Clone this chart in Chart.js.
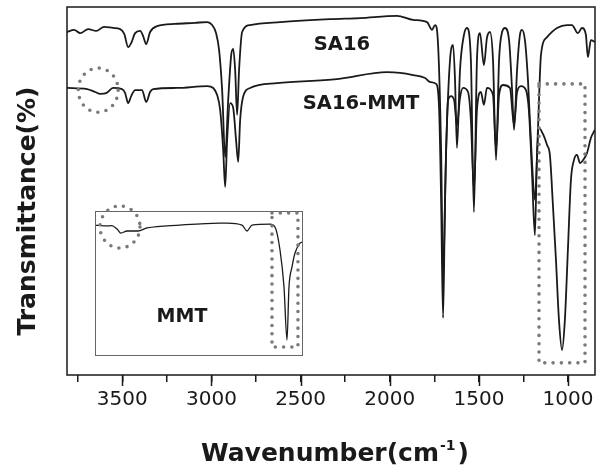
<!DOCTYPE html>
<html>
<head>
<meta charset="utf-8">
<script src="https://cdn.jsdelivr.net/npm/chart.js@4.4.0/dist/chart.umd.min.js"></script>
<style>
  html, body { margin: 0; padding: 0; background: #fff; }
  #wrap { position: relative; width: 606px; height: 467px; }
  #mainChart { position: absolute; left: 0; top: 0; }
  #insetChart { position: absolute; left: 85px; top: 200px; }
</style>
</head>
<body>
<div id="wrap">
  <canvas id="mainChart" width="606" height="467"></canvas>
  <canvas id="insetChart" width="225" height="162"></canvas>
</div>
<script>
// FTIR spectra (wavenumber in cm-1, transmittance in arbitrary %)
const wnSA16 = [3810, 3770, 3736, 3691, 3646, 3602, 3551, 3512, 3489, 3467, 3450, 3428, 3400, 3383, 3366, 3344, 3305, 3204, 3092, 3024,
  2996, 2974, 2957, 2940, 2923, 2906, 2889, 2878, 2867, 2856, 2845, 2828, 2783, 2615, 2335, 2167, 1959, 1869, 1791, 1763,
  1746, 1729, 1712, 1701, 1684, 1662, 1645, 1634, 1623, 1606, 1584, 1567, 1545, 1528, 1511, 1494, 1472, 1455, 1438, 1421,
  1404, 1387, 1370, 1354, 1331, 1314, 1303, 1286, 1270, 1259, 1242, 1225, 1203, 1186, 1169, 1152, 1118, 1062, 1006, 978,
  945, 922, 900, 889, 872, 850];
const tSA16 = [93.2, 93.8, 92.9, 94.0, 93.5, 94.6, 94.3, 94.0, 92.7, 89.1, 90.2, 92.9, 93.5, 92.1, 89.9, 93.2, 94.8, 95.4, 95.7, 95.9,
  95.1, 92.9, 88.3, 77.4, 59.2, 74.7, 87.0, 88.6, 82.9, 70.7, 82.9, 93.2, 95.1, 95.9, 96.7, 97.0, 97.6, 96.5, 95.9, 93.8,
  95.1, 89.7, 61.1, 26.4, 61.1, 85.6, 89.7, 80.2, 61.7, 82.9, 92.4, 94.3, 85.6, 44.3, 85.6, 92.9, 84.2, 91.6, 93.2, 85.6,
  58.4, 85.6, 93.2, 94.3, 91.0, 77.4, 66.6, 82.9, 92.4, 93.8, 91.0, 80.2, 58.4, 47.6, 66.6, 87.0, 91.8, 94.3, 95.1, 95.1,
  92.9, 94.3, 92.4, 86.4, 91.0, 90.5];

const wnComposite = [3810, 3697, 3652, 3624, 3590, 3551, 3501, 3484, 3467, 3450, 3428, 3389, 3366, 3344, 3327, 3192, 3024, 2990, 2968, 2951,
  2934, 2923, 2912, 2895, 2878, 2862, 2850, 2839, 2823, 2783, 2632, 2296, 2015, 1942, 1869, 1802, 1774, 1740, 1723, 1712,
  1701, 1690, 1673, 1656, 1639, 1623, 1606, 1589, 1561, 1545, 1528, 1511, 1489, 1472, 1455, 1421, 1404, 1387, 1365, 1326,
  1303, 1286, 1264, 1236, 1220, 1203, 1186, 1175, 1163, 1141, 1118, 1102, 1085, 1068, 1051, 1034, 1018, 1001, 984, 967,
  950, 933, 916, 894, 872, 850];
const tComposite = [78.0, 77.7, 76.9, 76.4, 76.6, 78.0, 77.7, 76.6, 73.9, 75.8, 77.4, 77.4, 74.2, 76.9, 77.7, 78.0, 78.5, 78.0, 76.1, 72.0,
  61.1, 51.1, 63.9, 73.9, 72.6, 63.9, 57.9, 69.3, 75.5, 78.0, 79.3, 80.4, 82.3, 82.1, 81.5, 80.7, 79.6, 79.1, 72.0, 47.6,
  15.5, 47.6, 74.7, 75.8, 74.7, 67.9, 75.3, 78.0, 76.9, 69.3, 50.3, 72.0, 76.9, 73.4, 78.0, 76.1, 61.1, 76.1, 78.8, 78.0,
  67.9, 76.9, 78.5, 77.4, 72.0, 55.7, 38.0, 58.4, 67.1, 65.5, 62.5, 59.8, 46.2, 31.3, 14.9, 6.8, 14.9, 34.0, 53.0, 58.4,
  59.8, 57.6, 58.4, 60.3, 64.4, 66.6];

// inset: montmorillonite alone
const wnMMT = [4000, 3814, 3740, 3659, 3598, 3505, 3334, 3195, 2684, 2065, 1957, 1724, 1647, 1570, 1291, 1214, 1136, 1074, 1028, 997,
  950, 904, 827, 796];
const tMMT = [90.3, 89.7, 89.9, 87.6, 84.8, 86.2, 86.2, 88.3, 90.3, 91.7, 91.7, 90.3, 86.2, 90.3, 91.0, 89.0, 73.1, 47.6, 11.0, 47.6,
  61.4, 71.0, 77.9, 78.6];

const seriesLabels = ['SA16', 'SA16-MMT'];
const insetLabel = 'MMT';
const xTickValues = [1000, 1250, 1500, 1750, 2000, 2250, 2500, 2750, 3000, 3250, 3500, 3750];
const xTickLabels = [1000, 1500, 2000, 2500, 3000, 3500];

// where the text and dotted highlights sit, in data units
const labelAt = [{ wn: 2268, t: 89.7 }, { wn: 2161, t: 73.6 }];
const mainCircle = { wn: 3635, t: 77.4, rWn: 112, rT: 6.0 };
const mainBox = { wn1: 1163, wn2: 905, t1: 79.1, t2: 3.3 };
const insetLabelAt = { wn: 2653, t: 26.9 };
const insetCircle = { wn: 3613, t: 89, rWn: 310, rT: 14.5 };
const insetBox = { wn1: 1260, wn2: 858, t1: 98.6, t2: 6.2 };

const ink = '#1a1a1a';

function toPoints(xs, ys) {
  return xs.map((v, i) => ({ x: v, y: ys[i] }));
}

function setDots(ctx) {
  ctx.strokeStyle = '#7a7a7a';
  ctx.lineWidth = 3.6;
  ctx.lineCap = 'round';
  ctx.setLineDash([0, 8.3]);
}

function dottedEllipse(ctx, x, y, c) {
  const cx = x.getPixelForValue(c.wn), cy = y.getPixelForValue(c.t);
  const rx = Math.abs(x.getPixelForValue(c.wn + c.rWn) - cx);
  const ry = Math.abs(y.getPixelForValue(c.t + c.rT) - cy);
  setDots(ctx);
  ctx.beginPath();
  ctx.ellipse(cx, cy, rx, ry, 0, 0, Math.PI * 2);
  ctx.stroke();
}

function dottedBox(ctx, x, y, b) {
  const x1 = x.getPixelForValue(b.wn1), x2 = x.getPixelForValue(b.wn2);
  const y1 = y.getPixelForValue(b.t1), y2 = y.getPixelForValue(b.t2);
  setDots(ctx);
  ctx.beginPath();
  ctx.rect(x1, y1, x2 - x1, y2 - y1);
  ctx.stroke();
}

const mainDecor = {
  id: 'mainDecor',
  afterDraw(chart) {
    const { ctx, chartArea: a, scales: { x, y } } = chart;
    ctx.save();
    // frame round the plot
    ctx.strokeStyle = ink;
    ctx.lineWidth = 1.5;
    ctx.strokeRect(a.left, a.top, a.right - a.left, a.bottom - a.top);
    // labelled ticks are longer
    xTickLabels.forEach(v => {
      const px = Math.round(x.getPixelForValue(v)) + 0.5;
      ctx.beginPath();
      ctx.moveTo(px, a.bottom);
      ctx.lineTo(px, a.bottom + 11);
      ctx.stroke();
    });
    // curve names
    ctx.fillStyle = ink;
    ctx.font = 'bold 19.5px "DejaVu Sans"';
    ctx.textAlign = 'center';
    ctx.textBaseline = 'middle';
    seriesLabels.forEach((s, i) => {
      ctx.fillText(s, x.getPixelForValue(labelAt[i].wn), y.getPixelForValue(labelAt[i].t));
    });
    // dotted highlights
    dottedEllipse(ctx, x, y, mainCircle);
    dottedBox(ctx, x, y, mainBox);
    ctx.setLineDash([]);

    // x title with superscript
    ctx.fillStyle = ink;
    ctx.textBaseline = 'alphabetic';
    ctx.textAlign = 'left';
    const big = 'bold 25px "DejaVu Sans"', small = 'bold 14px "DejaVu Sans"';
    const part1 = 'Wavenumber(cm', sup = '-1', part2 = ')';
    ctx.font = big;
    const w1 = ctx.measureText(part1).width, w3 = ctx.measureText(part2).width;
    ctx.font = small;
    const w2 = ctx.measureText(sup).width + 3;
    const tx = 335 - (w1 + w2 + w3) / 2;
    const base = 461;
    ctx.font = big;
    ctx.fillText(part1, tx, base);
    ctx.font = small;
    ctx.fillText(sup, tx + w1 + 1, base - 11);
    ctx.font = big;
    ctx.fillText(part2, tx + w1 + w2, base);

    // y title
    ctx.translate(35, 211);
    ctx.rotate(-Math.PI / 2);
    ctx.textAlign = 'center';
    ctx.font = 'bold 25px "DejaVu Sans"';
    ctx.fillText('Transmittance(%)', 0, 0);
    ctx.restore();
  }
};

new Chart(document.getElementById('mainChart'), {
  type: 'line',
  data: {
    datasets: [
      { label: seriesLabels[0], data: toPoints(wnSA16, tSA16) },
      { label: seriesLabels[1], data: toPoints(wnComposite, tComposite) }
    ]
  },
  options: {
    responsive: false,
    animation: false,
    devicePixelRatio: 1,
    layout: { padding: { left: 67, right: 11, top: 7, bottom: 0 } },
    elements: {
      line: { borderColor: ink, borderWidth: 1.8, cubicInterpolationMode: 'monotone' },
      point: { radius: 0 }
    },
    scales: {
      x: {
        type: 'linear',
        reverse: true,
        min: 849,
        max: 3810,
        afterBuildTicks: s => { s.ticks = xTickValues.map(v => ({ value: v })); },
        afterFit: s => { s.height = 92; s.paddingLeft = 0; s.paddingRight = 0; },
        ticks: {
          autoSkip: false,
          maxRotation: 0,
          padding: 6,
          color: ink,
          font: { family: 'DejaVu Sans', size: 20 },
          callback: v => xTickLabels.includes(v) ? String(v) : ''
        },
        grid: { drawOnChartArea: false, drawTicks: true, tickLength: 7, color: ink, lineWidth: 1.5 },
        border: { display: false }
      },
      y: { display: false, min: 0, max: 100 }
    },
    plugins: { legend: { display: false }, tooltip: { enabled: false } }
  },
  plugins: [mainDecor]
});

const insetDecor = {
  id: 'insetDecor',
  afterDraw(chart) {
    const { ctx, chartArea: a, scales: { x, y } } = chart;
    ctx.save();
    ctx.strokeStyle = '#666';
    ctx.lineWidth = 1;
    ctx.strokeRect(a.left + 0.5, a.top + 0.5, a.right - a.left - 1, a.bottom - a.top - 1);
    ctx.fillStyle = ink;
    ctx.font = 'bold 19px "DejaVu Sans"';
    ctx.textAlign = 'center';
    ctx.textBaseline = 'middle';
    ctx.fillText(insetLabel, x.getPixelForValue(insetLabelAt.wn), y.getPixelForValue(insetLabelAt.t));
    dottedEllipse(ctx, x, y, insetCircle);
    dottedBox(ctx, x, y, insetBox);
    ctx.restore();
  }
};

new Chart(document.getElementById('insetChart'), {
  type: 'line',
  data: { datasets: [{ label: insetLabel, data: toPoints(wnMMT, tMMT) }] },
  options: {
    responsive: false,
    animation: false,
    devicePixelRatio: 1,
    layout: { padding: { left: 10, right: 7, top: 11, bottom: 6 } },
    elements: {
      line: { borderColor: ink, borderWidth: 1.3, cubicInterpolationMode: 'monotone' },
      point: { radius: 0 }
    },
    scales: {
      x: { type: 'linear', display: false, reverse: true, min: 780, max: 4000 },
      y: { display: false, min: 0, max: 100 }
    },
    plugins: { legend: { display: false }, tooltip: { enabled: false } }
  },
  plugins: [insetDecor]
});
</script>
</body>
</html>
